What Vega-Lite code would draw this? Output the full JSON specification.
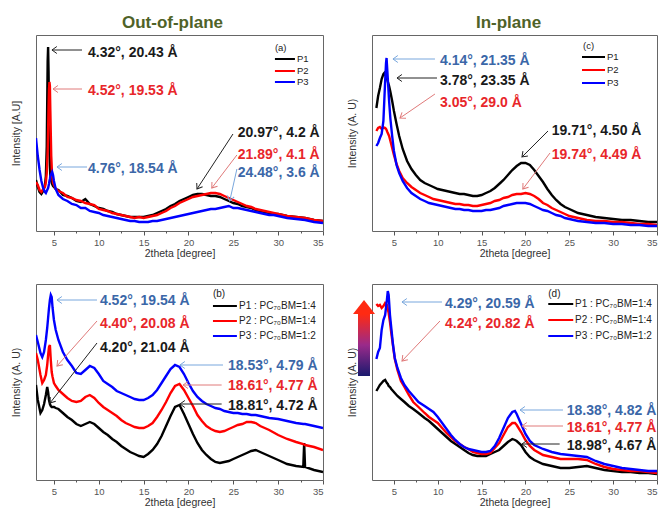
{
"$schema": "https://vega.github.io/schema/vega-lite/v6.json",
"padding": {"left": 10, "top": 13, "right": 0, "bottom": 0},
"background": "white",
"columns": 2,
"spacing": {"row": 53, "column": 49},
"bounds": "flush",
"config": {
 "view": {"stroke": "#666666", "strokeWidth": 1},
 "font": "Liberation Sans",
 "axis": {"grid": false, "domain": false, "labelFont": "Liberation Sans", "titleFont": "Liberation Sans", "titleFontWeight": "normal", "titleFontSize": 10.5, "titleColor": "#333333", "labelColor": "#555555", "labelFontSize": 9.5, "tickColor": "#555555"},
 "axisX": {"labelPadding": 2, "titlePadding": 2},
 "axisY": {"labels": false, "ticks": false, "titlePadding": 15},
 "title": {"font": "Liberation Sans", "fontSize": 17, "fontWeight": "bold", "color": "#4f6228", "offset": 3}
},
"datasets": {
 "ca": [
  {"x":3.0,"P1":51,"P2":49,"P3":93},{"x":3.2,"P1":44,"P2":46,"P3":75},{"x":3.4,"P1":39,"P2":41,"P3":61},{"x":3.6,"P1":37,"P2":39,"P3":50},{"x":3.8,"P1":40,"P2":42,"P3":43},{"x":4.0,"P1":46,"P2":44,"P3":39},{"x":4.1,"P1":55,"P2":49,"P3":38},{"x":4.2,"P1":85,"P2":58,"P3":40},{"x":4.3,"P1":170,"P2":80,"P3":42},{"x":4.35,"P1":184,"P2":100,"P3":43},{"x":4.4,"P1":160,"P2":125,"P3":45},{"x":4.45,"P1":120,"P2":142,"P3":47},{"x":4.5,"P1":85,"P2":149,"P3":50},{"x":4.55,"P1":65,"P2":145,"P3":52},{"x":4.6,"P1":55,"P2":120,"P3":55},{"x":4.7,"P1":50,"P2":75,"P3":57},{"x":4.8,"P1":47,"P2":55,"P3":59},{"x":4.9,"P1":45,"P2":48,"P3":56},{"x":5.0,"P1":44,"P2":46,"P3":50},{"x":5.2,"P1":42,"P2":42,"P3":42},{"x":5.5,"P1":41,"P2":40,"P3":36},{"x":6.0,"P1":36,"P2":38,"P3":32},{"x":6.5,"P1":35,"P2":34,"P3":30},{"x":7.0,"P1":33,"P2":33,"P3":27},{"x":7.5,"P1":30,"P2":31,"P3":26},{"x":8.0,"P1":29,"P2":30,"P3":23},{"x":8.5,"P1":32,"P2":28,"P3":23},{"x":9.0,"P1":27,"P2":27,"P3":20},{"x":9.5,"P1":25,"P2":26,"P3":19},{"x":10,"P1":23,"P2":22,"P3":18},{"x":10.5,"P1":22,"P2":21,"P3":16},{"x":11,"P1":20,"P2":20,"P3":15},{"x":11.5,"P1":19,"P2":18,"P3":14},{"x":12,"P1":17,"P2":17,"P3":13},{"x":12.5,"P1":16,"P2":16,"P3":12},{"x":13,"P1":15,"P2":15,"P3":11},{"x":13.5,"P1":14,"P2":14,"P3":10},{"x":14,"P1":14,"P2":13,"P3":10},{"x":14.5,"P1":14,"P2":14,"P3":9},{"x":15,"P1":14,"P2":13,"P3":9},{"x":15.5,"P1":15,"P2":14,"P3":9},{"x":16,"P1":16,"P2":15,"P3":10},{"x":16.5,"P1":18,"P2":16,"P3":10},{"x":17,"P1":20,"P2":18,"P3":11},{"x":17.5,"P1":22,"P2":20,"P3":12},{"x":18,"P1":25,"P2":23,"P3":13},{"x":18.5,"P1":27,"P2":25,"P3":14},{"x":19,"P1":30,"P2":28,"P3":15},{"x":19.5,"P1":32,"P2":30,"P3":16},{"x":20,"P1":34,"P2":32,"P3":17},{"x":20.5,"P1":36,"P2":34,"P3":18},{"x":21,"P1":37,"P2":35,"P3":19},{"x":21.5,"P1":37,"P2":36,"P3":20},{"x":22,"P1":36,"P2":37,"P3":21},{"x":22.5,"P1":35,"P2":38,"P3":22},{"x":23,"P1":35,"P2":38,"P3":22},{"x":23.5,"P1":34,"P2":37,"P3":23},{"x":24,"P1":32,"P2":35,"P3":24},{"x":24.5,"P1":30,"P2":33,"P3":25},{"x":25,"P1":28,"P2":31,"P3":23},{"x":25.5,"P1":27,"P2":29,"P3":23},{"x":26,"P1":25,"P2":27,"P3":22},{"x":26.5,"P1":24,"P2":25,"P3":21},{"x":27,"P1":23,"P2":24,"P3":20},{"x":27.5,"P1":21,"P2":22,"P3":19},{"x":28,"P1":20,"P2":21,"P3":18},{"x":28.5,"P1":19,"P2":20,"P3":17},{"x":29,"P1":18,"P2":19,"P3":16},{"x":29.5,"P1":17,"P2":18,"P3":16},{"x":30,"P1":17,"P2":17,"P3":15},{"x":31,"P1":15,"P2":15,"P3":13},{"x":32,"P1":14,"P2":14,"P3":12},{"x":33,"P1":13,"P2":13,"P3":11},{"x":34,"P1":11,"P2":11,"P3":9},{"x":35,"P1":10,"P2":10,"P3":8}
 ],
 "cc": [
  {"x":3.0,"P1":123,"P2":100,"P3":85},{"x":3.2,"P1":135,"P2":103,"P3":88},{"x":3.4,"P1":143,"P2":104,"P3":93},{"x":3.6,"P1":152,"P2":102,"P3":97},{"x":3.8,"P1":157,"P2":104,"P3":110},{"x":3.9,"P1":158,"P2":103,"P3":130},{"x":4.0,"P1":156,"P2":103,"P3":150},{"x":4.1,"P1":155,"P2":102,"P3":168},{"x":4.16,"P1":154,"P2":101,"P3":173},{"x":4.25,"P1":151,"P2":99,"P3":160},{"x":4.35,"P1":148,"P2":97,"P3":145},{"x":4.45,"P1":145,"P2":95,"P3":130},{"x":4.6,"P1":139,"P2":90,"P3":112},{"x":4.8,"P1":130,"P2":83,"P3":95},{"x":5.0,"P1":120,"P2":76,"P3":80},{"x":5.3,"P1":107,"P2":67,"P3":66},{"x":5.6,"P1":95,"P2":60,"P3":58},{"x":6.0,"P1":82,"P2":53,"P3":50},{"x":6.5,"P1":70,"P2":48,"P3":43},{"x":7,"P1":62,"P2":44,"P3":38},{"x":7.5,"P1":56,"P2":41,"P3":35},{"x":8,"P1":51,"P2":38,"P3":32},{"x":8.5,"P1":48,"P2":36,"P3":30},{"x":9,"P1":46,"P2":34,"P3":28},{"x":9.5,"P1":44,"P2":32,"P3":27},{"x":10,"P1":42,"P2":31,"P3":26},{"x":10.5,"P1":41,"P2":30,"P3":25},{"x":11,"P1":40,"P2":29,"P3":24},{"x":11.5,"P1":39,"P2":28,"P3":23},{"x":12,"P1":38,"P2":27,"P3":22},{"x":12.5,"P1":37,"P2":27,"P3":22},{"x":13,"P1":37,"P2":26,"P3":21},{"x":13.5,"P1":36,"P2":26,"P3":21},{"x":14,"P1":35,"P2":25,"P3":20},{"x":14.5,"P1":35,"P2":25,"P3":20},{"x":15,"P1":36,"P2":26,"P3":20},{"x":15.5,"P1":38,"P2":27,"P3":21},{"x":16,"P1":40,"P2":28,"P3":21},{"x":16.5,"P1":43,"P2":30,"P3":22},{"x":17,"P1":47,"P2":31,"P3":23},{"x":17.5,"P1":51,"P2":33,"P3":25},{"x":18,"P1":56,"P2":34,"P3":26},{"x":18.5,"P1":61,"P2":36,"P3":27},{"x":19,"P1":65,"P2":37,"P3":28},{"x":19.5,"P1":68,"P2":37,"P3":28},{"x":20,"P1":68,"P2":38,"P3":28},{"x":20.5,"P1":66,"P2":37,"P3":27},{"x":21,"P1":61,"P2":35,"P3":25},{"x":21.5,"P1":55,"P2":32,"P3":23},{"x":22,"P1":49,"P2":28,"P3":21},{"x":22.5,"P1":42,"P2":26,"P3":20},{"x":23,"P1":36,"P2":23,"P3":18},{"x":23.5,"P1":31,"P2":21,"P3":16},{"x":24,"P1":27,"P2":19,"P3":15},{"x":24.5,"P1":24,"P2":17,"P3":13},{"x":25,"P1":22,"P2":15,"P3":12},{"x":26,"P1":18,"P2":13,"P3":10},{"x":27,"P1":16,"P2":11,"P3":9},{"x":28,"P1":14,"P2":10,"P3":8},{"x":29,"P1":13,"P2":10,"P3":8},{"x":30,"P1":12,"P2":9,"P3":7},{"x":31,"P1":11,"P2":9,"P3":7},{"x":32,"P1":11,"P2":8,"P3":6},{"x":33,"P1":10,"P2":7,"P3":6},{"x":34,"P1":9,"P2":7,"P3":5},{"x":35,"P1":9,"P2":6,"P3":5}
 ],
 "cb": [
  {"x":3.0,"P1":95,"P2":127,"P3":145},{"x":3.2,"P1":80,"P2":120,"P3":138},{"x":3.5,"P1":67,"P2":105,"P3":127},{"x":3.7,"P1":70,"P2":97,"P3":123},{"x":3.9,"P1":76,"P2":100,"P3":128},{"x":4.1,"P1":85,"P2":105,"P3":140},{"x":4.25,"P1":93,"P2":115,"P3":152},{"x":4.35,"P1":88,"P2":125,"P3":162},{"x":4.45,"P1":80,"P2":133,"P3":172},{"x":4.55,"P1":76,"P2":135,"P3":180},{"x":4.65,"P1":74,"P2":120,"P3":185},{"x":4.75,"P1":73,"P2":108,"P3":183},{"x":4.85,"P1":73,"P2":103,"P3":172},{"x":5.0,"P1":73,"P2":97,"P3":160},{"x":5.2,"P1":72,"P2":94,"P3":150},{"x":5.5,"P1":71,"P2":90,"P3":140},{"x":6.0,"P1":67,"P2":86,"P3":128},{"x":6.5,"P1":63,"P2":82,"P3":120},{"x":7.0,"P1":60,"P2":79,"P3":114},{"x":7.5,"P1":56,"P2":78,"P3":107},{"x":8.0,"P1":54,"P2":79,"P3":106},{"x":8.5,"P1":56,"P2":83,"P3":110},{"x":9.0,"P1":58,"P2":85,"P3":114},{"x":9.5,"P1":56,"P2":82,"P3":112},{"x":10,"P1":52,"P2":77,"P3":106},{"x":10.5,"P1":48,"P2":73,"P3":99},{"x":11,"P1":45,"P2":70,"P3":96},{"x":11.5,"P1":41,"P2":67,"P3":93},{"x":12,"P1":38,"P2":64,"P3":89},{"x":12.5,"P1":34,"P2":60,"P3":87},{"x":13,"P1":31,"P2":57,"P3":85},{"x":13.5,"P1":28,"P2":55,"P3":83},{"x":14,"P1":26,"P2":53,"P3":81},{"x":14.5,"P1":24,"P2":52,"P3":80},{"x":15,"P1":23,"P2":52,"P3":80},{"x":15.5,"P1":26,"P2":54,"P3":82},{"x":16,"P1":30,"P2":57,"P3":85},{"x":16.5,"P1":36,"P2":63,"P3":90},{"x":17,"P1":44,"P2":70,"P3":97},{"x":17.5,"P1":54,"P2":78,"P3":104},{"x":18,"P1":64,"P2":87,"P3":111},{"x":18.5,"P1":73,"P2":94,"P3":115},{"x":19,"P1":75,"P2":96,"P3":113},{"x":19.5,"P1":66,"P2":90,"P3":106},{"x":20,"P1":56,"P2":82,"P3":97},{"x":20.5,"P1":46,"P2":74,"P3":89},{"x":21,"P1":37,"P2":65,"P3":83},{"x":21.5,"P1":30,"P2":59,"P3":79},{"x":22,"P1":25,"P2":54,"P3":76},{"x":22.5,"P1":21,"P2":51,"P3":74},{"x":23,"P1":18,"P2":49,"P3":72},{"x":23.5,"P1":17,"P2":48,"P3":71},{"x":24,"P1":18,"P2":49,"P3":69},{"x":24.5,"P1":19,"P2":51,"P3":68},{"x":25,"P1":21,"P2":53,"P3":67},{"x":25.5,"P1":23,"P2":55,"P3":67},{"x":26,"P1":25,"P2":56,"P3":66},{"x":26.5,"P1":27,"P2":58,"P3":66},{"x":27,"P1":29,"P2":58,"P3":65},{"x":27.5,"P1":30,"P2":57,"P3":65},{"x":28,"P1":28,"P2":54,"P3":64},{"x":28.5,"P1":26,"P2":52,"P3":63},{"x":29,"P1":24,"P2":50,"P3":62},{"x":30,"P1":20,"P2":45,"P3":61},{"x":31,"P1":16,"P2":41,"P3":59},{"x":32,"P1":14,"P2":38,"P3":57},{"x":32.8,"P1":13,"P2":36,"P3":56},{"x":32.9,"P1":37},{"x":33,"P1":13,"P2":35,"P3":56},{"x":34,"P1":10,"P2":33,"P3":54},{"x":35,"P1":8,"P2":30,"P3":52}
 ],
 "cd": [
  {"x":3.0,"P1":89,"P2":176,"P3":121},{"x":3.2,"P1":92,"P2":174,"P3":128},{"x":3.4,"P1":95,"P2":175,"P3":132},{"x":3.6,"P1":97,"P2":172,"P3":150},{"x":3.8,"P1":99,"P2":174,"P3":160},{"x":4.0,"P1":100,"P2":177,"P3":165},{"x":4.2,"P1":97,"P2":175,"P3":180},{"x":4.3,"P1":96,"P2":171,"P3":189},{"x":4.4,"P1":94,"P2":167,"P3":185},{"x":4.55,"P1":93,"P2":158,"P3":165},{"x":4.7,"P1":91,"P2":147,"P3":152},{"x":4.9,"P1":89,"P2":134,"P3":135},{"x":5.1,"P1":87,"P2":121,"P3":122},{"x":5.4,"P1":84,"P2":110,"P3":112},{"x":5.8,"P1":81,"P2":99,"P3":102},{"x":6.2,"P1":78,"P2":93,"P3":95},{"x":6.7,"P1":74,"P2":85,"P3":89},{"x":7.2,"P1":71,"P2":78,"P3":84},{"x":7.8,"P1":67,"P2":73,"P3":78},{"x":8.5,"P1":62,"P2":67,"P3":74},{"x":9.0,"P1":59,"P2":63,"P3":71},{"x":9.5,"P1":55,"P2":60,"P3":68},{"x":10,"P1":51,"P2":57,"P3":63},{"x":10.5,"P1":47,"P2":52,"P3":57},{"x":11,"P1":43,"P2":47,"P3":51},{"x":11.5,"P1":39,"P2":43,"P3":45},{"x":12,"P1":36,"P2":39,"P3":40},{"x":12.5,"P1":33,"P2":36,"P3":36},{"x":13,"P1":30,"P2":33,"P3":33},{"x":13.5,"P1":27,"P2":31,"P3":31},{"x":14,"P1":25,"P2":28,"P3":30},{"x":14.5,"P1":24,"P2":27,"P3":29},{"x":15,"P1":24,"P2":26,"P3":28},{"x":15.5,"P1":24,"P2":26,"P3":28},{"x":16,"P1":26,"P2":27,"P3":29},{"x":16.5,"P1":28,"P2":32,"P3":34},{"x":17,"P1":30,"P2":37,"P3":42},{"x":17.5,"P1":34,"P2":45,"P3":52},{"x":18,"P1":38,"P2":53,"P3":62},{"x":18.5,"P1":41,"P2":57,"P3":68},{"x":18.8,"P1":40,"P2":57,"P3":69},{"x":19,"P1":39,"P2":55,"P3":66},{"x":19.5,"P1":35,"P2":48,"P3":56},{"x":20,"P1":28,"P2":40,"P3":46},{"x":20.5,"P1":23,"P2":34,"P3":39},{"x":21,"P1":20,"P2":30,"P3":35},{"x":22,"P1":16,"P2":25,"P3":31},{"x":23,"P1":14,"P2":23,"P3":28},{"x":24,"P1":12,"P2":21,"P3":26},{"x":25,"P1":12,"P2":21,"P3":25},{"x":26,"P1":13,"P2":21,"P3":24},{"x":27,"P1":14,"P2":20,"P3":23},{"x":28,"P1":12,"P2":16,"P3":19},{"x":29,"P1":10,"P2":13,"P3":16},{"x":30,"P1":9,"P2":11,"P3":14},{"x":31,"P1":8,"P2":10,"P3":12},{"x":32,"P1":8,"P2":9,"P3":11},{"x":33,"P1":7,"P2":9,"P3":10},{"x":34,"P1":7,"P2":8,"P3":9},{"x":35,"P1":6,"P2":7,"P3":9}
 ],
 "na": [
  {"k":"arrow","s":"P1","x":4.78,"y":181,"x2":8.13,"y2":181,"a":0},
  {"k":"arrow","s":"P2","x":4.9,"y":142,"x2":8.13,"y2":142,"a":0},
  {"k":"arrow","s":"P3","x":5.34,"y":64,"x2":8.69,"y2":64,"a":0},
  {"k":"arrow","s":"P1","x":20.95,"y":42,"x2":24.96,"y2":97,"a":303},
  {"k":"arrow","s":"P2","x":22.6,"y":43,"x2":25.4,"y2":76,"a":307},
  {"k":"arrow","s":"P3","x":24.6,"y":30,"x2":25.4,"y2":62,"a":282},
  {"k":"text","s":"P1","x":8.8,"y":178,"t":"4.32°, 20.43 Å"},
  {"k":"text","s":"P2","x":8.8,"y":140,"t":"4.52°, 19.53 Å"},
  {"k":"text","s":"P3","x":8.8,"y":62,"t":"4.76°, 18.54 Å"},
  {"k":"text","s":"P1","x":25.5,"y":98,"t":"20.97°, 4.2 Å"},
  {"k":"text","s":"P2","x":25.5,"y":76,"t":"21.89°, 4.1 Å"},
  {"k":"text","s":"P3","x":25.5,"y":58,"t":"24.48°, 3.6 Å"},
  {"k":"leg","s":"P1","x":29.64,"x2":31.87,"y":172},
  {"k":"leg","s":"P2","x":29.64,"x2":31.87,"y":160},
  {"k":"leg","s":"P3","x":29.64,"x2":31.87,"y":149},
  {"k":"legt","x":32.1,"y":172,"t":"P1"},
  {"k":"legt","x":32.1,"y":160,"t":"P2"},
  {"k":"legt","x":32.1,"y":149,"t":"P3"},
  {"k":"legt","x":29.64,"y":183,"t":"(a)"}
 ],
 "nc": [
  {"k":"arrow","s":"P3","x":4.89,"y":172,"x2":9.68,"y2":172,"a":0},
  {"k":"arrow","s":"P1","x":5.35,"y":153,"x2":9.91,"y2":153,"a":0},
  {"k":"arrow","s":"P2","x":5.69,"y":113,"x2":9.68,"y2":137,"a":326},
  {"k":"arrow","s":"P1","x":19.6,"y":74,"x2":22.57,"y2":100,"a":315},
  {"k":"arrow","s":"P2","x":19.7,"y":42,"x2":22.8,"y2":78,"a":307},
  {"k":"text","s":"P3","x":10.25,"y":170,"t":"4.14°, 21.35 Å"},
  {"k":"text","s":"P1","x":10.25,"y":150,"t":"3.78°, 23.35 Å"},
  {"k":"text","s":"P2","x":10.25,"y":128,"t":"3.05°, 29.0 Å"},
  {"k":"text","s":"P1","x":23.0,"y":100,"t":"19.71°, 4.50 Å"},
  {"k":"text","s":"P2","x":23.0,"y":76,"t":"19.74°, 4.49 Å"},
  {"k":"leg","s":"P1","x":26.45,"x2":29.07,"y":174},
  {"k":"leg","s":"P2","x":26.45,"x2":29.07,"y":161},
  {"k":"leg","s":"P3","x":26.45,"x2":29.07,"y":148},
  {"k":"legt","x":29.3,"y":174,"t":"P1"},
  {"k":"legt","x":29.3,"y":161,"t":"P2"},
  {"k":"legt","x":29.3,"y":148,"t":"P3"},
  {"k":"legt","x":26.56,"y":185,"t":"(c)"}
 ],
 "nb": [
  {"k":"arrow","s":"P3","x":5.34,"y":180,"x2":9.8,"y2":180,"a":0},
  {"k":"arrow","s":"P2","x":5.34,"y":114,"x2":9.8,"y2":159,"a":312},
  {"k":"arrow","s":"P1","x":4.56,"y":77,"x2":9.8,"y2":137,"a":308},
  {"k":"arrow","s":"P3","x":19.05,"y":115,"x2":23.85,"y2":115,"a":0},
  {"k":"arrow","s":"P2","x":19.4,"y":95,"x2":23.7,"y2":95,"a":0},
  {"k":"arrow","s":"P1","x":19.05,"y":76,"x2":23.7,"y2":76,"a":0},
  {"k":"text","s":"P3","x":10.13,"y":179,"t":"4.52°, 19.54 Å"},
  {"k":"text","s":"P2","x":10.13,"y":156,"t":"4.40°, 20.08 Å"},
  {"k":"text","s":"P1","x":10.13,"y":132,"t":"4.20°, 21.04 Å"},
  {"k":"text","s":"P3","x":24.4,"y":114,"t":"18.53°, 4.79 Å"},
  {"k":"text","s":"P2","x":24.4,"y":94,"t":"18.61°, 4.77 Å"},
  {"k":"text","s":"P1","x":24.4,"y":74,"t":"18.81°, 4.72 Å"},
  {"k":"leg","s":"P1","x":22.73,"x2":25.4,"y":174},
  {"k":"leg","s":"P2","x":22.73,"x2":25.4,"y":159},
  {"k":"leg","s":"P3","x":22.73,"x2":25.4,"y":144},
  {"k":"legt","x":25.63,"y":174,"t":"P1 : PC₇₀BM=1:4"},
  {"k":"legt","x":25.63,"y":159,"t":"P2 : PC₇₀BM=1:4"},
  {"k":"legt","x":25.63,"y":144,"t":"P3 : PC₇₀BM=1:2"},
  {"k":"legt","x":22.73,"y":186,"t":"(b)"}
 ],
 "nd": [
  {"k":"arrow","s":"P3","x":5.92,"y":178,"x2":10.48,"y2":178,"a":0},
  {"k":"arrow","s":"P2","x":5.92,"y":119,"x2":10.25,"y2":159,"a":313},
  {"k":"arrow","s":"P3","x":19.38,"y":70,"x2":24.28,"y2":70,"a":0},
  {"k":"arrow","s":"P2","x":19.6,"y":54,"x2":24.28,"y2":54,"a":0},
  {"k":"arrow","s":"P1","x":19.6,"y":36,"x2":23.9,"y2":36,"a":0},
  {"k":"text","s":"P3","x":10.82,"y":176,"t":"4.29°, 20.59 Å"},
  {"k":"text","s":"P2","x":10.82,"y":156,"t":"4.24°, 20.82 Å"},
  {"k":"text","s":"P3","x":24.7,"y":69,"t":"18.38°, 4.82 Å"},
  {"k":"text","s":"P2","x":24.7,"y":52,"t":"18.61°, 4.77 Å"},
  {"k":"text","s":"P1","x":24.7,"y":34,"t":"18.98°, 4.67 Å"},
  {"k":"leg","s":"P1","x":22.6,"x2":25.45,"y":176},
  {"k":"leg","s":"P2","x":22.6,"x2":25.45,"y":160},
  {"k":"leg","s":"P3","x":22.6,"x2":25.45,"y":144},
  {"k":"legt","x":25.65,"y":176,"t":"P1 : PC₇₀BM=1:4"},
  {"k":"legt","x":25.65,"y":160,"t":"P2 : PC₇₀BM=1:4"},
  {"k":"legt","x":25.65,"y":144,"t":"P3 : PC₇₀BM=1:2"},
  {"k":"legt","x":22.6,"y":186,"t":"(d)"},
  {"k":"grad","x":0.9,"x2":2.27,"y":166,"y2":104},
  {"k":"head","x":1.59,"y":166}
 ]
},
"concat": [
 {
  "width": 287, "height": 196,
  "title": {"text": "Out-of-plane", "dx": -7},
  "encoding": {
   "x": {"field": "x", "type": "quantitative", "scale": {"domain": [3, 35], "nice": false, "zero": false},
    "axis": {"title": "2theta [degree]", "values": [5,7.5,10,12.5,15,17.5,20,22.5,25,27.5,30,32.5,35], "labelExpr": "datum.value % 5 === 0 ? datum.label : ''", "tickSize": {"condition": {"test": "datum.value % 5 === 0", "value": 4}, "value": 2}}},
   "y": {"field": "y", "type": "quantitative", "scale": {"domain": [0, 196], "nice": false}, "axis": {"title": "Intensity [A.U]"}}
  },
  "layer": [
   {"data": {"name": "ca"}, "transform": [{"fold": ["P1","P2","P3"], "as": ["s","y"]}, {"filter": "datum.y != null"}],
    "mark": {"type": "line", "strokeWidth": 2.4, "clip": true},
    "encoding": {"color": {"field": "s", "type": "nominal", "scale": {"domain": ["P1","P2","P3"], "range": ["#000000","#ff0000","#0000ff"]}, "legend": null}}},
   {"data": {"name": "na"}, "transform": [{"filter": "datum.k === 'arrow'"}],
    "mark": {"type": "rule", "strokeWidth": 1},
    "encoding": {"x2": {"field": "x2"}, "y2": {"field": "y2"}, "color": {"condition": [{"test": "datum.s === 'P2'", "value": "#e07a7a"}, {"test": "datum.s === 'P3'", "value": "#79a7dd"}], "value": "#222222"}}},
   {"data": {"name": "na"}, "transform": [{"filter": "datum.k === 'arrow'"}],
    "mark": {"type": "point", "shape": "M1.4,-1L0,0L1.4,1", "filled": false, "size": 49, "strokeWidth": 1, "opacity": 1},
    "encoding": {"angle": {"field": "a", "type": "quantitative", "scale": null}, "color": {"condition": [{"test": "datum.s === 'P2'", "value": "#e07a7a"}, {"test": "datum.s === 'P3'", "value": "#79a7dd"}], "value": "#222222"}}},
   {"data": {"name": "na"}, "transform": [{"filter": "datum.k === 'text'"}],
    "mark": {"type": "text", "align": "left", "baseline": "middle", "fontSize": 14, "fontWeight": "bold", "font": "Liberation Sans"},
    "encoding": {"text": {"field": "t"}, "color": {"condition": [{"test": "datum.s === 'P2'", "value": "#e8262a"}, {"test": "datum.s === 'P3'", "value": "#3b67a8"}], "value": "#1a1a1a"}}},
   {"data": {"name": "na"}, "transform": [{"filter": "datum.k === 'leg'"}],
    "mark": {"type": "rule", "strokeWidth": 2},
    "encoding": {"x2": {"field": "x2"}, "color": {"field": "s", "type": "nominal", "scale": {"domain": ["P1","P2","P3"], "range": ["#000000","#ff0000","#0000ff"]}, "legend": null}}},
   {"data": {"name": "na"}, "transform": [{"filter": "datum.k === 'legt'"}],
    "mark": {"type": "text", "align": "left", "baseline": "middle", "fontSize": 9.5, "color": "#222222", "font": "Liberation Sans"},
    "encoding": {"text": {"field": "t"}}}
  ]
 },
 {
  "width": 285, "height": 196,
  "title": {"text": "In-plane", "dx": -6},
  "encoding": {
   "x": {"field": "x", "type": "quantitative", "scale": {"domain": [2.5, 35], "nice": false, "zero": false},
    "axis": {"title": "2theta [degree]", "values": [5,7.5,10,12.5,15,17.5,20,22.5,25,27.5,30,32.5,35], "labelExpr": "datum.value % 5 === 0 ? datum.label : ''", "tickSize": {"condition": {"test": "datum.value % 5 === 0", "value": 4}, "value": 2}}},
   "y": {"field": "y", "type": "quantitative", "scale": {"domain": [0, 196], "nice": false}, "axis": {"title": "Intensity (A. U)"}}
  },
  "layer": [
   {"data": {"name": "cc"}, "transform": [{"fold": ["P1","P2","P3"], "as": ["s","y"]}, {"filter": "datum.y != null"}],
    "mark": {"type": "line", "strokeWidth": 2.4, "clip": true},
    "encoding": {"color": {"field": "s", "type": "nominal", "scale": {"domain": ["P1","P2","P3"], "range": ["#000000","#ff0000","#0000ff"]}, "legend": null}}},
   {"data": {"name": "nc"}, "transform": [{"filter": "datum.k === 'arrow'"}],
    "mark": {"type": "rule", "strokeWidth": 1},
    "encoding": {"x2": {"field": "x2"}, "y2": {"field": "y2"}, "color": {"condition": [{"test": "datum.s === 'P2'", "value": "#e07a7a"}, {"test": "datum.s === 'P3'", "value": "#79a7dd"}], "value": "#222222"}}},
   {"data": {"name": "nc"}, "transform": [{"filter": "datum.k === 'arrow'"}],
    "mark": {"type": "point", "shape": "M1.4,-1L0,0L1.4,1", "filled": false, "size": 49, "strokeWidth": 1, "opacity": 1},
    "encoding": {"angle": {"field": "a", "type": "quantitative", "scale": null}, "color": {"condition": [{"test": "datum.s === 'P2'", "value": "#e07a7a"}, {"test": "datum.s === 'P3'", "value": "#79a7dd"}], "value": "#222222"}}},
   {"data": {"name": "nc"}, "transform": [{"filter": "datum.k === 'text'"}],
    "mark": {"type": "text", "align": "left", "baseline": "middle", "fontSize": 14, "fontWeight": "bold", "font": "Liberation Sans"},
    "encoding": {"text": {"field": "t"}, "color": {"condition": [{"test": "datum.s === 'P2'", "value": "#e8262a"}, {"test": "datum.s === 'P3'", "value": "#3b67a8"}], "value": "#1a1a1a"}}},
   {"data": {"name": "nc"}, "transform": [{"filter": "datum.k === 'leg'"}],
    "mark": {"type": "rule", "strokeWidth": 2},
    "encoding": {"x2": {"field": "x2"}, "color": {"field": "s", "type": "nominal", "scale": {"domain": ["P1","P2","P3"], "range": ["#000000","#ff0000","#0000ff"]}, "legend": null}}},
   {"data": {"name": "nc"}, "transform": [{"filter": "datum.k === 'legt'"}],
    "mark": {"type": "text", "align": "left", "baseline": "middle", "fontSize": 9.5, "color": "#222222", "font": "Liberation Sans"},
    "encoding": {"text": {"field": "t"}}}
  ]
 },
 {
  "width": 287, "height": 196,
  "encoding": {
   "x": {"field": "x", "type": "quantitative", "scale": {"domain": [3, 35], "nice": false, "zero": false},
    "axis": {"title": "2theta [degree]", "values": [5,7.5,10,12.5,15,17.5,20,22.5,25,27.5,30,32.5,35], "labelExpr": "datum.value % 5 === 0 ? datum.label : ''", "tickSize": {"condition": {"test": "datum.value % 5 === 0", "value": 4}, "value": 2}}},
   "y": {"field": "y", "type": "quantitative", "scale": {"domain": [0, 196], "nice": false}, "axis": {"title": "Intensity (A. U)"}}
  },
  "layer": [
   {"data": {"name": "cb"}, "transform": [{"fold": ["P1","P2","P3"], "as": ["s","y"]}, {"filter": "datum.y != null"}],
    "mark": {"type": "line", "strokeWidth": 2.4, "clip": true},
    "encoding": {"color": {"field": "s", "type": "nominal", "scale": {"domain": ["P1","P2","P3"], "range": ["#000000","#ff0000","#0000ff"]}, "legend": null}}},
   {"data": {"name": "nb"}, "transform": [{"filter": "datum.k === 'arrow'"}],
    "mark": {"type": "rule", "strokeWidth": 1},
    "encoding": {"x2": {"field": "x2"}, "y2": {"field": "y2"}, "color": {"condition": [{"test": "datum.s === 'P2'", "value": "#e07a7a"}, {"test": "datum.s === 'P3'", "value": "#79a7dd"}], "value": "#222222"}}},
   {"data": {"name": "nb"}, "transform": [{"filter": "datum.k === 'arrow'"}],
    "mark": {"type": "point", "shape": "M1.4,-1L0,0L1.4,1", "filled": false, "size": 49, "strokeWidth": 1, "opacity": 1},
    "encoding": {"angle": {"field": "a", "type": "quantitative", "scale": null}, "color": {"condition": [{"test": "datum.s === 'P2'", "value": "#e07a7a"}, {"test": "datum.s === 'P3'", "value": "#79a7dd"}], "value": "#222222"}}},
   {"data": {"name": "nb"}, "transform": [{"filter": "datum.k === 'text'"}],
    "mark": {"type": "text", "align": "left", "baseline": "middle", "fontSize": 14, "fontWeight": "bold", "font": "Liberation Sans"},
    "encoding": {"text": {"field": "t"}, "color": {"condition": [{"test": "datum.s === 'P2'", "value": "#e8262a"}, {"test": "datum.s === 'P3'", "value": "#3b67a8"}], "value": "#1a1a1a"}}},
   {"data": {"name": "nb"}, "transform": [{"filter": "datum.k === 'leg'"}],
    "mark": {"type": "rule", "strokeWidth": 2},
    "encoding": {"x2": {"field": "x2"}, "color": {"field": "s", "type": "nominal", "scale": {"domain": ["P1","P2","P3"], "range": ["#000000","#ff0000","#0000ff"]}, "legend": null}}},
   {"data": {"name": "nb"}, "transform": [{"filter": "datum.k === 'legt'"}],
    "mark": {"type": "text", "align": "left", "baseline": "middle", "fontSize": 10, "color": "#222222", "font": "Liberation Sans"},
    "encoding": {"text": {"field": "t"}}}
  ]
 },
 {
  "width": 285, "height": 196,
  "encoding": {
   "x": {"field": "x", "type": "quantitative", "scale": {"domain": [2.5, 35], "nice": false, "zero": false},
    "axis": {"title": "2theta [degree]", "values": [5,7.5,10,12.5,15,17.5,20,22.5,25,27.5,30,32.5,35], "labelExpr": "datum.value % 5 === 0 ? datum.label : ''", "tickSize": {"condition": {"test": "datum.value % 5 === 0", "value": 4}, "value": 2}}},
   "y": {"field": "y", "type": "quantitative", "scale": {"domain": [0, 196], "nice": false}, "axis": {"title": "Intensity (A. U)"}}
  },
  "layer": [
   {"data": {"name": "cd"}, "transform": [{"fold": ["P1","P2","P3"], "as": ["s","y"]}, {"filter": "datum.y != null"}],
    "mark": {"type": "line", "strokeWidth": 2.4, "clip": true},
    "encoding": {"color": {"field": "s", "type": "nominal", "scale": {"domain": ["P1","P2","P3"], "range": ["#000000","#ff0000","#0000ff"]}, "legend": null}}},
   {"data": {"name": "nd"}, "transform": [{"filter": "datum.k === 'arrow'"}],
    "mark": {"type": "rule", "strokeWidth": 1},
    "encoding": {"x2": {"field": "x2"}, "y2": {"field": "y2"}, "color": {"condition": [{"test": "datum.s === 'P2'", "value": "#e07a7a"}, {"test": "datum.s === 'P3'", "value": "#79a7dd"}], "value": "#222222"}}},
   {"data": {"name": "nd"}, "transform": [{"filter": "datum.k === 'arrow'"}],
    "mark": {"type": "point", "shape": "M1.4,-1L0,0L1.4,1", "filled": false, "size": 49, "strokeWidth": 1, "opacity": 1},
    "encoding": {"angle": {"field": "a", "type": "quantitative", "scale": null}, "color": {"condition": [{"test": "datum.s === 'P2'", "value": "#e07a7a"}, {"test": "datum.s === 'P3'", "value": "#79a7dd"}], "value": "#222222"}}},
   {"data": {"name": "nd"}, "transform": [{"filter": "datum.k === 'text'"}],
    "mark": {"type": "text", "align": "left", "baseline": "middle", "fontSize": 14, "fontWeight": "bold", "font": "Liberation Sans"},
    "encoding": {"text": {"field": "t"}, "color": {"condition": [{"test": "datum.s === 'P2'", "value": "#e8262a"}, {"test": "datum.s === 'P3'", "value": "#3b67a8"}], "value": "#1a1a1a"}}},
   {"data": {"name": "nd"}, "transform": [{"filter": "datum.k === 'leg'"}],
    "mark": {"type": "rule", "strokeWidth": 2},
    "encoding": {"x2": {"field": "x2"}, "color": {"field": "s", "type": "nominal", "scale": {"domain": ["P1","P2","P3"], "range": ["#000000","#ff0000","#0000ff"]}, "legend": null}}},
   {"data": {"name": "nd"}, "transform": [{"filter": "datum.k === 'legt'"}],
    "mark": {"type": "text", "align": "left", "baseline": "middle", "fontSize": 10, "color": "#222222", "font": "Liberation Sans"},
    "encoding": {"text": {"field": "t"}}},
   {"data": {"name": "nd"}, "transform": [{"filter": "datum.k === 'grad'"}],
    "mark": {"type": "rect", "fill": {"gradient": "linear", "x1": 0, "y1": 1, "x2": 0, "y2": 0, "stops": [{"offset": 0, "color": "#1a1a6e"}, {"offset": 0.5, "color": "#9a2a8a"}, {"offset": 1, "color": "#ff2a12"}]}},
    "encoding": {"x2": {"field": "x2"}, "y2": {"field": "y2"}}},
   {"data": {"name": "nd"}, "transform": [{"filter": "datum.k === 'head'"}],
    "mark": {"type": "point", "shape": "M0,-2L1.57,0L-1.57,0Z", "size": 196, "filled": true, "color": "#ff2a12", "opacity": 1, "strokeWidth": 0}}
  ]
 }
]
}
